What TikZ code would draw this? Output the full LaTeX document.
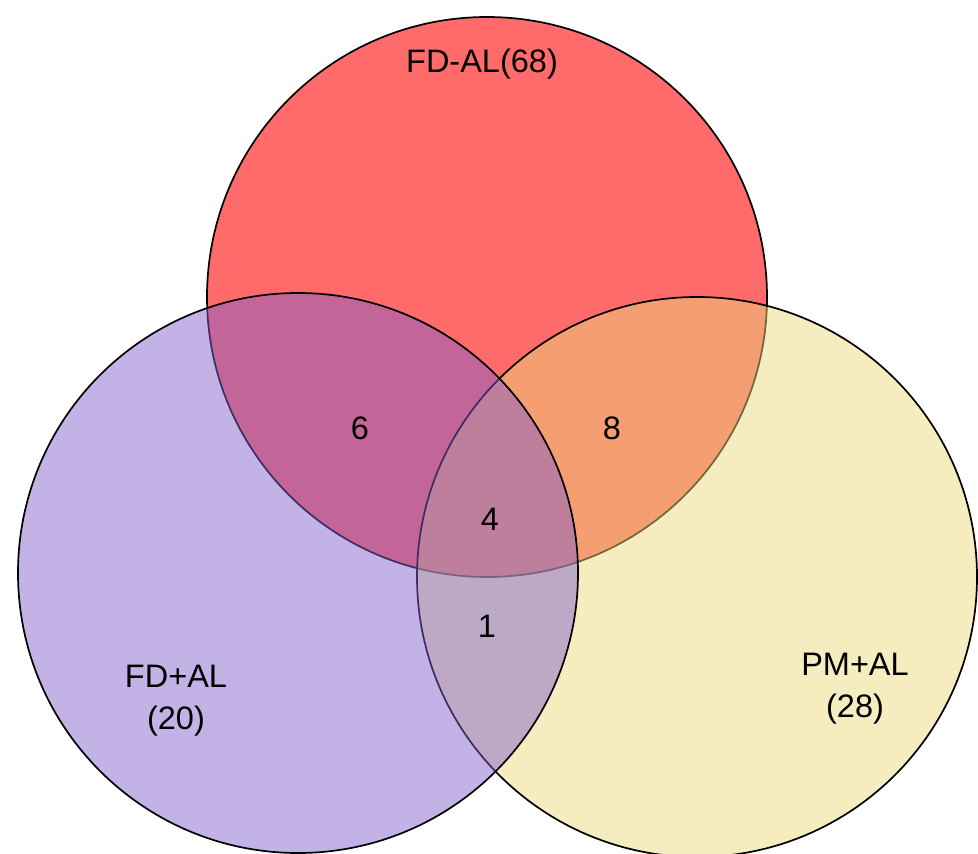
\documentclass[tikz,border=0pt]{standalone}
\usepackage{fontspec}
\setmainfont{Liberation Sans}
\definecolor{setred}{RGB}{255,107,107}
\definecolor{setyellow}{RGB}{234,215,122}
\definecolor{setpurple}{RGB}{130,95,203}
\begin{document}
\begin{tikzpicture}[x=1pt,y=-1pt,
  setcircle/.style={circle, draw=black, line width=1.7pt, minimum size=560pt, inner sep=0pt},
  lbl/.style={font=\fontsize{32.5}{42}\selectfont, align=center, inner sep=0pt}]
\useasboundingbox (0,0) rectangle (978,854);
\clip (0,0) rectangle (978,854);
\node[setcircle, fill=setred] (red) at (487,297) {};
\node[setcircle, fill=setyellow, fill opacity=0.48] (yellow) at (697,577) {};
\node[setcircle, fill=setpurple, fill opacity=0.48] (purple) at (298,573) {};
\node[lbl] (tred) at (482,64.5) {FD-AL(68)};
\node[lbl] (tpurple) at (176,701) {FD+AL\\(20)};
\node[lbl] (tyellow) at (855,689) {PM+AL\\(28)};
\node[lbl] (nrp) at (360,428) {6};
\node[lbl] (nry) at (612,428) {8};
\node[lbl] (nall) at (490,519) {4};
\node[lbl] (npy) at (487,626) {1};
\end{tikzpicture}
\end{document}
